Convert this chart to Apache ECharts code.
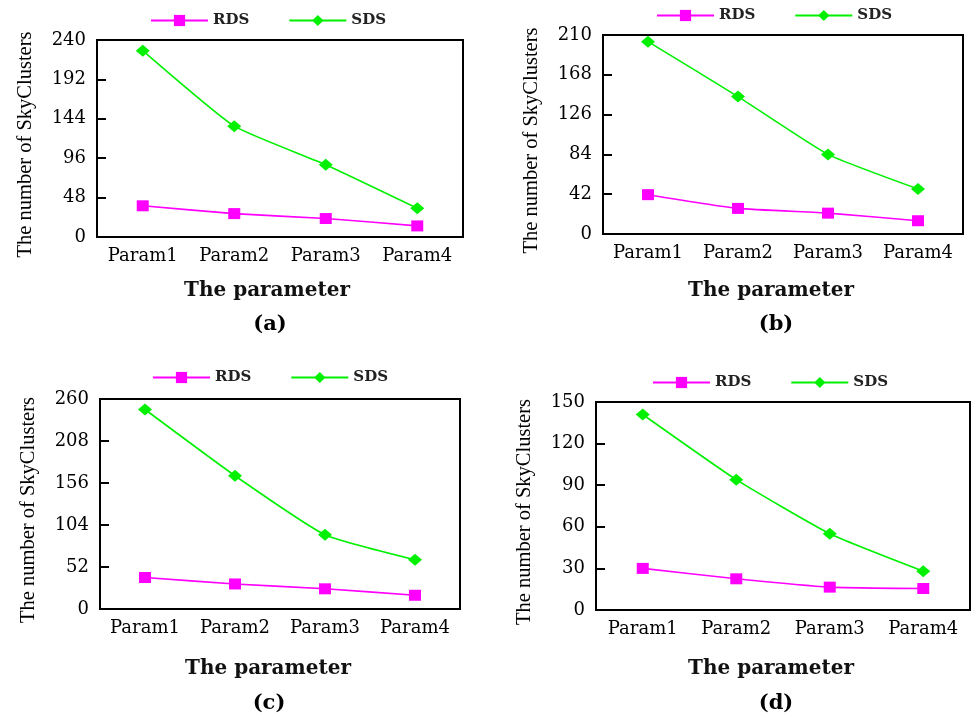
<!DOCTYPE html>
<html>
<head>
<meta charset="utf-8">
<script src="https://cdn.jsdelivr.net/npm/echarts@6/dist/echarts.min.js"></script>
<style>
html,body{margin:0;padding:0;background:#fff;}
#chart{width:973px;height:721px;}
</style>
</head>
<body>
<div id="chart"></div>
<script>
// ---- data ----
const categories = ['Param1', 'Param2', 'Param3', 'Param4'];
const seriesNames = ['RDS', 'SDS'];
const panelLabels = ['(a)', '(b)', '(c)', '(d)'];
const xTitle = 'The parameter';
const yTitle = 'The number of SkyClusters';

const rdsA = [38, 28.5, 22.5, 13.5];
const sdsA = [227, 135, 88, 35];
const rdsB = [41.5, 27, 22, 14];
const sdsB = [203, 145, 84, 47.5];
const rdsC = [39, 31, 25, 17];
const sdsC = [247, 165, 92, 61];
const rdsD = [30, 22.5, 16.5, 15.5];
const sdsD = [141, 94, 55, 28];

const yTicksA = [0, 48, 96, 144, 192, 240];
const yTicksB = [0, 42, 84, 126, 168, 210];
const yTicksC = [0, 52, 104, 156, 208, 260];
const yTicksD = [0, 30, 60, 90, 120, 150];

// ---- layout ----
const panels = [
  {rds: rdsA, sds: sdsA, ticks: yTicksA, grid: {left: 97, top: 40, width: 366, height: 197}, legend: {left: 150, cy: 20}, xt: [267, 291], lab: [270, 325]},
  {rds: rdsB, sds: sdsB, ticks: yTicksB, grid: {left: 603, top: 35, width: 360, height: 199}, legend: {left: 656, cy: 15}, xt: [771, 291], lab: [776, 325]},
  {rds: rdsC, sds: sdsC, ticks: yTicksC, grid: {left: 100, top: 399, width: 360, height: 210}, legend: {left: 152, cy: 377}, xt: [268, 669], lab: [269, 704]},
  {rds: rdsD, sds: sdsD, ticks: yTicksD, grid: {left: 596, top: 402, width: 374, height: 208}, legend: {left: 652, cy: 382}, xt: [771, 669], lab: [776, 704]}
];

const RDS_COLOR = '#ff00ff';
const SDS_COLOR = '#00f000';
const tickFont = {fontFamily: 'DejaVu Serif', fontSize: 18, color: '#000'};
const LEG_H = 14;

const grids = [], xAxes = [], yAxes = [], series = [], legends = [], graphics = [];
panels.forEach((p, i) => {
  grids.push(Object.assign({show: true, borderColor: '#000', borderWidth: 2, backgroundColor: 'transparent'}, p.grid));
  xAxes.push({
    type: 'category', gridIndex: i, data: categories, boundaryGap: true,
    axisLine: {lineStyle: {color: '#000', width: 2}},
    axisTick: {inside: true, length: 7, lineStyle: {color: '#000', width: 2}},
    axisLabel: Object.assign({margin: 10, interval: 0, hideOverlap: false}, tickFont),
    splitLine: {show: false}
  });
  const t = p.ticks;
  yAxes.push({
    type: 'value', gridIndex: i, min: t[0], max: t[t.length - 1], interval: t[1] - t[0],
    name: yTitle, nameLocation: 'middle', nameRotate: 90, nameGap: 61,
    nameTextStyle: {fontFamily: 'Liberation Serif', fontSize: 20.5, color: '#000', padding: [0, 12, 0, 0]},
    axisLine: {show: true, lineStyle: {color: '#000', width: 2}},
    axisTick: {show: true, inside: true, length: 9, lineStyle: {color: '#000', width: 2}},
    axisLabel: Object.assign({margin: 11}, tickFont),
    splitLine: {show: false}
  });
  series.push({
    name: seriesNames[0], type: 'line', xAxisIndex: i, yAxisIndex: i, data: p.rds,
    smooth: 0.15, symbol: 'rect', symbolSize: [12, 11],
    lineStyle: {color: RDS_COLOR, width: 1.6}, itemStyle: {color: RDS_COLOR}, z: 3
  });
  series.push({
    name: seriesNames[1], type: 'line', xAxisIndex: i, yAxisIndex: i, data: p.sds,
    smooth: 0.15, symbol: 'diamond', symbolSize: [14, 12],
    lineStyle: {color: SDS_COLOR, width: 1.6}, itemStyle: {color: SDS_COLOR}, z: 3
  });
  legends.push({
    left: p.legend.left, top: p.legend.cy - LEG_H / 2, orient: 'horizontal', padding: 0,
    data: seriesNames, itemWidth: 57, itemHeight: LEG_H, itemGap: 39,
    selectedMode: false,
    textStyle: {fontFamily: 'DejaVu Serif', fontWeight: 'bold', fontSize: 15, color: '#222'}
  });
  graphics.push({
    type: 'text', x: p.xt[0], y: p.xt[1],
    style: {text: xTitle, fontFamily: 'DejaVu Serif', fontWeight: 'bold', fontSize: 20, fill: '#111', align: 'center', verticalAlign: 'middle'}
  });
  graphics.push({
    type: 'text', x: p.lab[0], y: p.lab[1],
    style: {text: panelLabels[i], fontFamily: 'DejaVu Serif', fontWeight: 'bold', fontSize: 21, fill: '#000', align: 'center', verticalAlign: 'middle'}
  });
});

const chart = echarts.init(document.getElementById('chart'), null, {renderer: 'canvas'});
chart.setOption({
  animation: false,
  backgroundColor: '#fff',
  grid: grids, xAxis: xAxes, yAxis: yAxes, series: series, legend: legends, graphic: graphics
});
</script>
</body>
</html>
